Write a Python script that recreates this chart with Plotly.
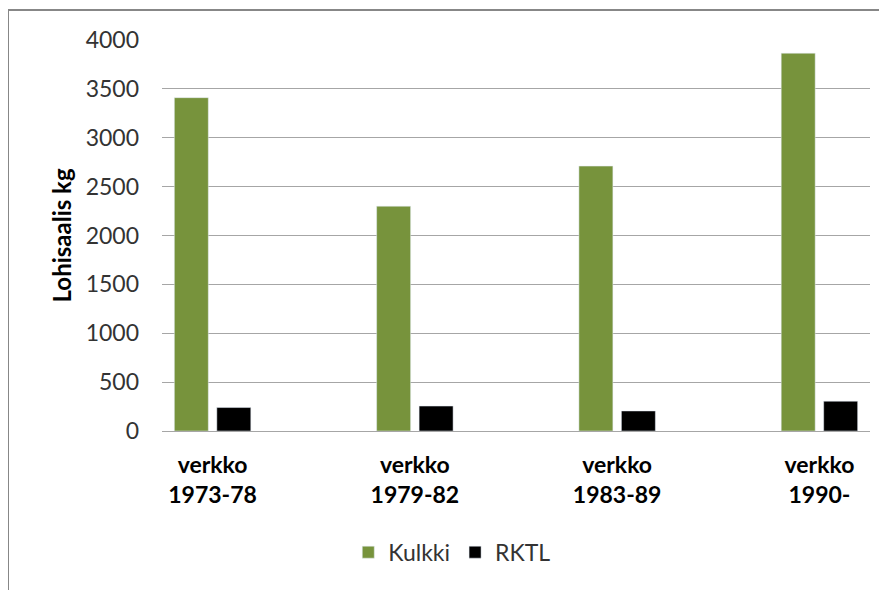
import plotly.graph_objects as go

# Jaksot (x-akselin kategoriat)
jaksot = ['verkko<br>1973-78', 'verkko<br>1979-82', 'verkko<br>1983-89', 'verkko<br>1990-']
# Lohisaalis kg
kulkki = [3410, 2300, 2710, 3865]
rktl = [240, 255, 205, 305]
y_ticks = [0, 500, 1000, 1500, 2000, 2500, 3000, 3500, 4000]

fig = go.Figure()
fig.add_trace(go.Bar(x=jaksot, y=kulkki, name='Kulkki', marker_color='#77933C'))
fig.add_trace(go.Bar(x=jaksot, y=rktl, name='RKTL', marker_color='#000000'))

# sivun oletusmarginaali (8 px) huomioitu marginaaleissa
fig.update_layout(
    width=887, height=590,
    margin=dict(l=154, r=25, t=32, b=167),
    paper_bgcolor='white', plot_bgcolor='white',
    barmode='group', bargap=0.58, bargroupgap=0.2,
    font=dict(family='Lato', size=23, color='#333333'),
    showlegend=True,
    legend=dict(orientation='h', x=0.41, xanchor='center', y=-0.31, yanchor='middle',
                font=dict(size=23, color='#333333'), itemwidth=30),
)
fig.update_xaxes(
    range=[-0.25, 3.25], showgrid=False, showline=False,
    tickfont=dict(family='Lato', size=23, color='#000000', weight='bold'),
    ticklabelstandoff=18,
)
fig.update_yaxes(
    range=[0, 4000], tickvals=y_ticks, showgrid=True, gridcolor='#A6A6A6', gridwidth=1,
    zeroline=True, zerolinecolor='#A6A6A6', zerolinewidth=1,
    ticklabelstandoff=22,
)
# Akselin otsikko
fig.add_annotation(
    text='<b>Lohisaalis kg</b>', textangle=-90, showarrow=False,
    xref='paper', yref='paper', x=(61 - 162) / 708, y=0.5,
    xanchor='center', yanchor='middle',
    font=dict(family='Lato', size=24, color='#000000'),
)
# Kehys
fig.add_shape(type='rect', xref='paper', yref='paper',
              x0=(8 - 162) / 708, x1=(892 - 162) / 708,
              y0=(431 - 596) / 391, y1=(431 - 10) / 391,
              line=dict(color='#878787', width=2), layer='below')

fig.write_html('out.html')
